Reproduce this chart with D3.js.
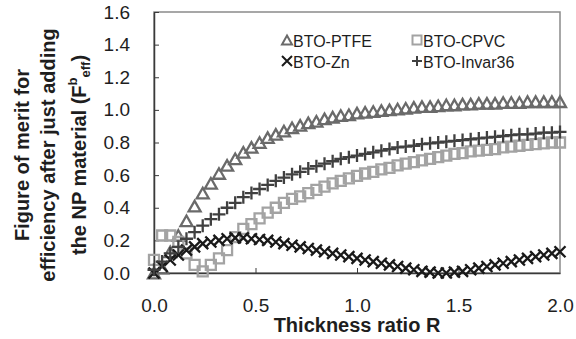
<!DOCTYPE html>
<html>
<head>
<meta charset="utf-8">
<script src="https://cdn.jsdelivr.net/npm/d3@7"></script>
<style>
  body { margin: 0; background: #fff; }
  svg { font-family: "Liberation Sans", Arial, sans-serif; }
</style>
</head>
<body>
<svg id="chart" width="576" height="339"></svg>
<script>
// thickness ratio R, step 0.04
const ratioR = d3.range(51).map(i => +(i * 0.04).toFixed(2));

const ptfe = [0.00, 0.03, 0.13, 0.23, 0.32, 0.41, 0.49, 0.55, 0.61, 0.66,
  0.70, 0.74, 0.77, 0.80, 0.83, 0.85, 0.87, 0.89, 0.905, 0.92,
  0.93, 0.945, 0.955, 0.965, 0.97, 0.98, 0.985, 0.99, 0.995, 1.00,
  1.005, 1.01, 1.015, 1.02, 1.02, 1.025, 1.03, 1.03, 1.035, 1.035,
  1.04, 1.04, 1.04, 1.045, 1.045, 1.045, 1.05, 1.05, 1.05, 1.05, 1.05];

const cpvc = [0.08, 0.23, 0.23, 0.19, 0.12, 0.05, 0.01, 0.05, 0.09, 0.14,
  0.22, 0.27, 0.30, 0.335, 0.37, 0.40, 0.43, 0.455, 0.47, 0.49,
  0.51, 0.53, 0.55, 0.565, 0.58, 0.595, 0.61, 0.62, 0.635, 0.645,
  0.66, 0.67, 0.68, 0.69, 0.70, 0.71, 0.72, 0.73, 0.735, 0.745,
  0.75, 0.755, 0.76, 0.77, 0.775, 0.78, 0.785, 0.79, 0.795, 0.80, 0.80];

const zn = [0.00, 0.04, 0.08, 0.11, 0.14, 0.16, 0.18, 0.19, 0.20, 0.21,
  0.215, 0.215, 0.21, 0.205, 0.20, 0.19, 0.18, 0.17, 0.16, 0.15,
  0.14, 0.13, 0.12, 0.11, 0.10, 0.09, 0.08, 0.07, 0.06, 0.05,
  0.04, 0.03, 0.02, 0.01, 0.005, 0.00, 0.00, 0.005, 0.01, 0.02,
  0.03, 0.04, 0.05, 0.06, 0.07, 0.08, 0.09, 0.10, 0.11, 0.12, 0.13];

const invar36 = [0.02, 0.07, 0.12, 0.16, 0.21, 0.25, 0.29, 0.33, 0.36, 0.40,
  0.43, 0.465, 0.49, 0.515, 0.54, 0.565, 0.585, 0.605, 0.62, 0.64,
  0.655, 0.67, 0.685, 0.70, 0.71, 0.72, 0.73, 0.74, 0.75, 0.76,
  0.77, 0.775, 0.78, 0.79, 0.795, 0.80, 0.805, 0.81, 0.815, 0.82,
  0.825, 0.83, 0.835, 0.84, 0.845, 0.85, 0.85, 0.855, 0.86, 0.86, 0.865];

const xTicks = [0, 0.5, 1.0, 1.5, 2.0];
const yTicks = [0, 0.2, 0.4, 0.6, 0.8, 1.0, 1.2, 1.4, 1.6];

// marker path builders (centred on 0,0)
const shapes = {
  triangle: s => { const h = s * 0.88; return `M0,${-h / 2}L${s / 2},${h / 2}L${-s / 2},${h / 2}Z`; },
  square: s => `M${-s / 2},${-s / 2}h${s}v${s}h${-s}Z`,
  times: s => `M${-s / 2},${-s / 2}L${s / 2},${s / 2}M${s / 2},${-s / 2}L${-s / 2},${s / 2}`,
  plus: s => `M${-s / 2},0H${s / 2}M0,${-s / 2}V${s / 2}`
};

const series = [
  { name: 'BTO-PTFE', values: ptfe, shape: 'triangle', size: 12, color: '#6a6a6a' },
  { name: 'BTO-CPVC', values: cpvc, shape: 'square', size: 10, color: '#a3a3a3' },
  { name: 'BTO-Zn', values: zn, shape: 'times', size: 11, color: '#1a1a1a' },
  { name: 'BTO-Invar36', values: invar36, shape: 'plus', size: 13, color: '#404040' }
];

const svg = d3.select('#chart');
const plotL = 154, plotR = 560, plotT = 12, plotB = 273;

const x = d3.scaleLinear().domain([0, 2]).range([plotL, plotR]);
const y = d3.scaleLinear().domain([0, 1.6]).range([plotB, plotT]);

// plot frame
svg.append('rect')
  .attr('x', plotL).attr('y', plotT)
  .attr('width', plotR - plotL).attr('height', plotB - plotT)
  .attr('fill', 'none').attr('stroke', '#8a8a8a').attr('stroke-width', 1.5);

const yAxis = svg.append('g')
  .attr('transform', `translate(${plotL},0)`)
  .call(d3.axisLeft(y).tickValues(yTicks).tickFormat(d3.format('.1f'))
    .tickSizeInner(-5).tickSizeOuter(0).tickPadding(24));

const xAxis = svg.append('g')
  .attr('transform', `translate(0,${plotB})`)
  .call(d3.axisBottom(x).tickValues(xTicks).tickFormat(d3.format('.1f'))
    .tickSizeInner(-5).tickSizeOuter(0).tickPadding(24));

[yAxis, xAxis].forEach(g => {
  g.select('.domain').attr('stroke', '#3a3a3a').attr('stroke-width', 1.5);
  g.selectAll('.tick line').attr('stroke', '#3a3a3a').attr('stroke-width', 1);
  g.selectAll('.tick text').attr('font-size', 19).attr('fill', '#1e1e1e')
    .attr('font-family', '"Liberation Sans", Arial, sans-serif');
});
xAxis.selectAll('.tick text').attr('dy', null).attr('y', 39);
// the x tick marks at the axis ends are not drawn
xAxis.selectAll('.tick line').attr('opacity', d => (d === 0 || d === 2) ? 0 : 1);

// series markers
series.forEach(s => {
  svg.append('g')
    .selectAll('path')
    .data(ratioR.map((r, i) => [r, s.values[i]]))
    .join('path')
    .attr('d', shapes[s.shape](s.size))
    .attr('transform', d => `translate(${x(d[0])},${y(d[1])})`)
    .attr('fill', 'none')
    .attr('stroke', s.color)
    .attr('stroke-width', 2.3);
});

// legend
const legendPos = [[287, 40], [417, 40], [287, 61], [417, 61]];
series.forEach((s, i) => {
  const [lx, ly] = legendPos[i];
  svg.append('path')
    .attr('d', shapes[s.shape](s.shape === 'square' ? 9 : 10))
    .attr('transform', `translate(${lx},${ly})`)
    .attr('fill', 'none').attr('stroke', s.color).attr('stroke-width', 2);
  svg.append('text')
    .attr('x', lx + 6).attr('y', ly + 7)
    .attr('font-size', 16).attr('fill', '#1e1e1e')
    .text(s.name);
});

// axis titles
svg.append('text')
  .attr('x', (plotL + plotR) / 2).attr('y', 332)
  .attr('text-anchor', 'middle')
  .attr('font-size', 20).attr('font-weight', 'bold').attr('fill', '#1e1e1e')
  .text('Thickness ratio R');

const yTitle = svg.append('text')
  .attr('transform', 'translate(0,155) rotate(-90)')
  .attr('text-anchor', 'middle')
  .attr('font-size', 20).attr('font-weight', 'bold').attr('fill', '#1e1e1e');
yTitle.append('tspan').attr('x', 0).attr('y', 29).text('Figure of merit for');
yTitle.append('tspan').attr('x', 0).attr('y', 55).text('efficiency after just adding');
const l3 = yTitle.append('tspan').attr('x', 0).attr('y', 86);
l3.append('tspan').text('the NP material (F');
l3.append('tspan').attr('font-size', 13).attr('dy', -9).text('b');
l3.append('tspan').attr('font-size', 13).attr('dy', 13).text('eff');
l3.append('tspan').attr('dy', -4).text(')');
</script>
</body>
</html>
